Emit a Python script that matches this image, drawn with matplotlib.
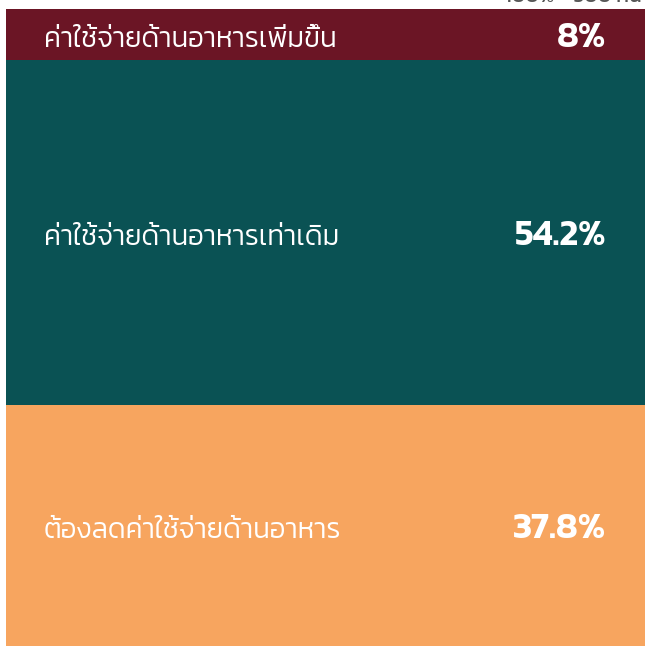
import matplotlib
matplotlib.use('Agg')
from matplotlib import pyplot as plt

# share of respondents, top to bottom
labels = ['ค่าใช้จ่ายด้านอาหารเพิ่มขึ้น', 'ค่าใช้จ่ายด้านอาหารเท่าเดิม', 'ต้องลดค่าใช้จ่ายด้านอาหาร']
values = [8.0, 54.2, 37.8]
colors = ['#6B1525', '#0A5254', '#F7A55F']
note = '100% = 500 คน'

W, H = 647, 648
fig = plt.figure(figsize=(W / 100, H / 100), dpi=100)
ax = fig.add_axes([6 / W, 2 / H, 639 / W, 637 / H])

bottom = 0
for lab, val, col in zip(labels, values, colors):
    ax.bar(0, val, bottom=bottom, width=1, color=col, linewidth=0)
    mid = bottom + val / 2
    ax.text(0.0595, mid + 0.8, lab, transform=ax.get_yaxis_transform(),
            ha='left', va='center', color='white', fontsize=20,
            family=['Kanit', 'DejaVu Sans'], fontweight=300)
    ax.text(0.939, mid + 0.6, '%g%%' % val, transform=ax.get_yaxis_transform(),
            ha='right', va='center', color='white', fontsize=26,
            family=['Kanit', 'DejaVu Sans'], fontweight=600)
    bottom += val

ax.set_xlim(-0.5, 0.5)
ax.set_ylim(100, 0)
ax.axis('off')

# header text, mostly outside the picture
fig.text(505 / W, 1 - 2.5 / H, note, ha='left', va='baseline', color='#555555',
         fontsize=15, family=['Kanit', 'DejaVu Sans'])

fig.savefig('out.png', dpi=100)
